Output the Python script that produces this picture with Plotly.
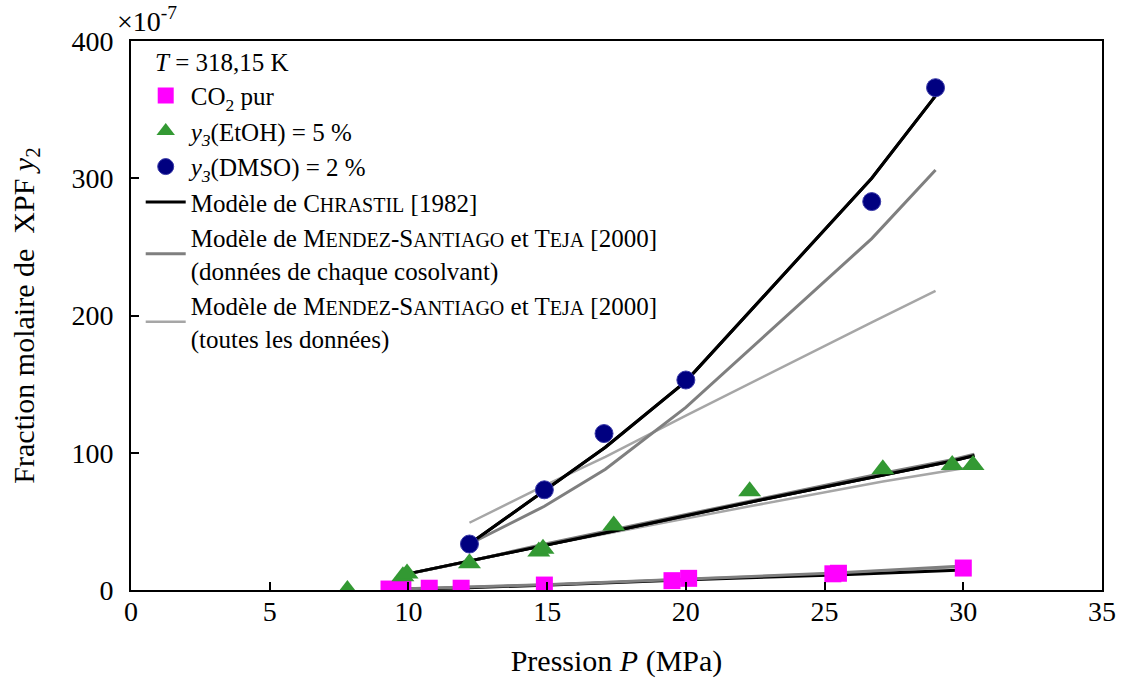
import plotly.graph_objects as go

# ---------------- data (y in units of 1e-7) ----------------
co2_p = [9.3, 9.8, 10.75, 11.9, 14.9, 19.5, 20.1, 25.3, 25.5, 30.0]
co2_y = [0.7, 0.7, 1.3, 1.3, 3.6, 6.8, 8.5, 11.8, 12.2, 16.0]

etoh_p = [7.8, 9.8, 9.95, 12.2, 14.7, 14.85, 17.4, 22.3, 27.1, 29.6, 30.35]
etoh_y = [0.0, 10.0, 12.0, 19.5, 28.0, 30.0, 47.0, 72.0, 88.0, 91.0, 91.0]

dmso_p = [12.2, 14.9, 17.05, 20.0, 26.7, 29.0]
dmso_y = [33.5, 73.0, 114.0, 153.0, 283.0, 366.0]

# model curves
co2_mod_p = [9.3, 11.9, 14.9, 20.1, 25.4, 30.0]
co2_chrastil = [0.3, 1.5, 3.5, 7.5, 11.0, 14.5]
co2_mendez_each = [0.5, 1.8, 3.8, 8.0, 12.3, 17.5]
co2_mendez_all = [0.5, 1.8, 3.8, 8.0, 12.1, 17.0]

etoh_mod_p = [9.8, 12.2, 14.8, 17.4, 22.3, 27.1, 29.6, 30.4]
etoh_chrastil = [11, 21, 32, 43, 64, 84, 94, 98]
etoh_mendez_each = [11, 21, 33, 44, 65, 85, 95, 99]
etoh_mendez_all = [11, 21, 32, 42, 61, 79, 87, 90]

dmso_mod_p = [12.2, 14.9, 17.1, 20.0, 26.7, 29.0]
dmso_chrastil = [33.5, 72, 104, 152, 300, 360]
dmso_mendez_each = [33.5, 61, 88, 133, 256, 306]
dmso_mendez_all = [49, 76, 97, 127, 195, 218]

x_ticks = [0, 5, 10, 15, 20, 25, 30, 35]
y_ticks = [0, 100, 200, 300, 400]

FONT = "Liberation Serif, Times New Roman, serif"
SC = "<span style='font-size:20px'>"
sc_end = "</span>"

lab_co2 = "CO<sub>2</sub> pur"
lab_etoh = "<i>y<sub>3</sub></i>(EtOH) = 5 %"
lab_dmso = "<i>y<sub>3</sub></i>(DMSO) = 2 %"
lab_chr = "Modèle de C" + SC + "HRASTIL" + sc_end + " [1982]"
lab_me = ("Modèle de M" + SC + "ENDEZ" + sc_end + "-S" + SC + "ANTIAGO" + sc_end +
          " et T" + SC + "EJA" + sc_end + " [2000]<br>(données de chaque cosolvant)")
lab_ma = ("Modèle de M" + SC + "ENDEZ" + sc_end + "-S" + SC + "ANTIAGO" + sc_end +
          " et T" + SC + "EJA" + sc_end + " [2000]<br>(toutes les données)")

C_BLACK = "#000000"
C_MED = "#7f7f7f"
C_LIGHT = "#a6a6a6"

fig = go.Figure()

models = [
    ("mall", C_LIGHT, 2.5, lab_ma, 6,
     [(co2_mod_p, co2_mendez_all), (etoh_mod_p, etoh_mendez_all), (dmso_mod_p, dmso_mendez_all)]),
    ("chr", C_BLACK, 3, lab_chr, 4,
     [(co2_mod_p, co2_chrastil), (etoh_mod_p, etoh_chrastil), (dmso_mod_p, dmso_chrastil)]),
    ("meach", C_MED, 3, lab_me, 5,
     [(co2_mod_p, co2_mendez_each), (etoh_mod_p, etoh_mendez_each), (dmso_mod_p, dmso_mendez_each)]),
]
for grp, col, w, lab, rank, curves in models:
    for i, (px, py) in enumerate(curves):
        fig.add_trace(go.Scatter(
            x=px, y=py, mode="lines", line=dict(color=col, width=w),
            name=lab, legendgroup=grp, showlegend=(i == 0), legendrank=rank,
            hoverinfo="skip"))
# Chrastil drawn again over the gray for EtOH / DMSO
fig.add_trace(go.Scatter(x=etoh_mod_p, y=etoh_chrastil, mode="lines",
                         line=dict(color=C_BLACK, width=3), showlegend=False,
                         legendgroup="chr", hoverinfo="skip"))
fig.add_trace(go.Scatter(x=dmso_mod_p, y=dmso_chrastil, mode="lines",
                         line=dict(color=C_BLACK, width=3), showlegend=False,
                         legendgroup="chr", hoverinfo="skip"))

fig.add_trace(go.Scatter(
    x=co2_p, y=co2_y, mode="markers", name=lab_co2, legendrank=1,
    marker=dict(symbol="square", size=17, color="#ff00ff")))
fig.add_trace(go.Scatter(
    x=etoh_p, y=etoh_y, mode="markers", name=lab_etoh, legendrank=2,
    marker=dict(symbol="triangle-up", size=20, color="#339933")))
fig.add_trace(go.Scatter(
    x=dmso_p, y=dmso_y, mode="markers", name=lab_dmso, legendrank=3,
    marker=dict(symbol="circle", size=18, color="#000080",
                line=dict(color="#3a3aa8", width=1))))

fig.update_layout(
    width=1128, height=684,
    margin=dict(l=131, r=19, t=41, b=92),
    paper_bgcolor="white", plot_bgcolor="white",
    font=dict(family=FONT, size=25, color="black"),
    showlegend=True,
    legend=dict(
        x=0.01, y=0.942, xanchor="left", yanchor="top",
        bgcolor="rgba(0,0,0,0)", borderwidth=0,
        font=dict(family=FONT, size=25, color="black"),
        traceorder="normal", itemwidth=40,
    ),
    xaxis=dict(
        range=[0, 35], tickvals=x_ticks, ticktext=[str(v) for v in x_ticks],
        showgrid=False, zeroline=False,
        showline=True, linecolor="black", linewidth=2, mirror=True,
        ticks="inside", ticklen=8, tickwidth=2, tickcolor="black",
        tickfont=dict(family=FONT, size=28), ticklabelstandoff=-5,
        title=dict(text="Pression <i>P</i> (MPa)", font=dict(family=FONT, size=30), standoff=24),
    ),
    yaxis=dict(
        range=[0, 400], tickvals=y_ticks, ticktext=[str(v) for v in y_ticks],
        showgrid=False, zeroline=False,
        showline=True, linecolor="black", linewidth=2, mirror=True,
        ticks="inside", ticklen=8, tickwidth=2, tickcolor="black",
        tickfont=dict(family=FONT, size=28), ticklabelstandoff=10,
        title=dict(text="Fraction molaire de  XPF <i>y</i><sub>2</sub>",
                   font=dict(family=FONT, size=30), standoff=28),
    ),
    annotations=[
        dict(text="×10<sup>-7</sup>", xref="paper", yref="paper", x=0, y=1,
             xanchor="left", yanchor="bottom", xshift=-16, yshift=2,
             showarrow=False, font=dict(family=FONT, size=28)),
        dict(text="<i>T</i> = 318,15 K", xref="paper", yref="paper", x=0, y=1,
             xanchor="left", yanchor="middle", xshift=22, yshift=-21,
             showarrow=False, font=dict(family=FONT, size=25)),
    ],
)

fig.write_html("out.html", config={"displayModeBar": False},
               post_script="document.body.style.margin='0px';")
